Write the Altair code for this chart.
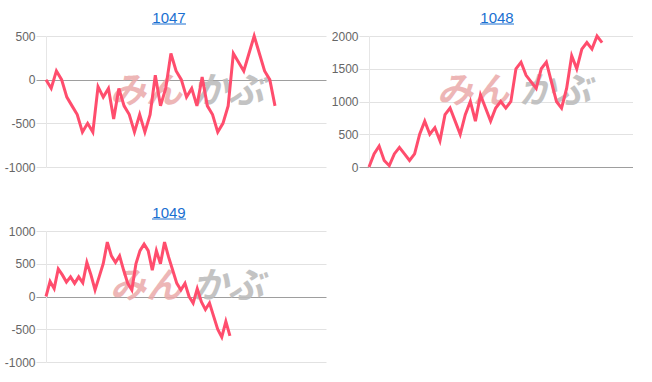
import altair as alt
import pandas as pd

names = ["1047", "1048", "1049"]

v1047 = [0, -100, 100, 0, -200, -300, -400, -600, -500, -600,
         -80, -200, -100, -450, -100, -300, -400, -600, -400, -600,
         -400, 50, -300, -100, 300, 100, 0, -200, -100, -300,
         30, -300, -400, -600, -500, -300, 300, 200, 100, 300,
         500, 300, 100, 0, -300]

v1048 = [0, 200, 320, 100, 20, 200, 300, 200, 100, 200,
         500, 700, 500, 600, 400, 800, 900, 700, 500, 800,
         1000, 700, 1100, 900, 700, 900, 1000, 900, 1000, 1500,
         1600, 1400, 1300, 1200, 1500, 1600, 1300, 1000, 900, 1200,
         1700, 1500, 1800, 1900, 1800, 2000, 1900]

v1049 = [0, 230, 120, 420, 330, 220, 300, 200, 300, 210,
         520, 330, 100, 300, 500, 830, 620, 520, 620, 400,
         200, 100, 500, 700, 800, 700, 400, 700, 500, 830,
         600, 400, 200, 100, 200, 0, -100, 120, -80, -200,
         -100, -300, -500, -620, -380, -600]

series = [v1047, v1048, v1049]
y_domains = [[-1000, 500], [0, 2000], [-1000, 1000]]
x_domain_max = [53.8, 52.1, 68.5]
watermark_left = ["みん"]
watermark_right = ["かぶ"]

LINE = "#ff4d6d"
LINK = "#1a6fd1"
GRID = "#e2e2e2"
BASE = "#9e9e9e"


def panel(name, values, ydom, xmax, w, h, title_x, wm_x):
    df = pd.DataFrame({"i": list(range(len(values))), "v": values})
    ticks = list(range(ydom[0], ydom[1] + 1, 500))
    cond = {"condition": {"test": "datum.value === 0", "value": BASE}, "value": GRID}
    line = alt.Chart(df).mark_line(color=LINE, strokeWidth=3).encode(
        x=alt.X("i:Q", scale=alt.Scale(domain=[0, xmax], nice=False, zero=True), axis=None),
        y=alt.Y("v:Q", scale=alt.Scale(domain=ydom, nice=False),
                axis=alt.Axis(values=ticks, title=None, labelExpr="'' + datum.value",
                              labelColor="#666666",
                              labelFontSize=12, labelFont="Liberation Sans",
                              labelPadding=1, tickSize=10, tickColor=cond,
                              gridColor=cond, domainColor="#e6e6e6")),
    )
    one = pd.DataFrame({"t": [name]})
    wm1 = alt.Chart(pd.DataFrame({"t": watermark_left})).mark_text(
        align="right", baseline="middle", font="Noto Sans CJK JP", fontSize=36,
        fontWeight="bold", fontStyle="italic", color="#ebaaaa", opacity=0.85,
    ).encode(text="t:N", x=alt.value(wm_x - 4), y=alt.value(56))
    wm2 = alt.Chart(pd.DataFrame({"t": watermark_right})).mark_text(
        align="left", baseline="middle", font="Noto Sans CJK JP", fontSize=36,
        fontWeight="bold", fontStyle="italic", color="#bdbdbd", opacity=0.9,
    ).encode(text="t:N", x=alt.value(wm_x + 6), y=alt.value(56))
    title = alt.Chart(one).mark_text(
        align="center", baseline="middle", font="Liberation Sans", fontSize=15,
        color=LINK,
    ).encode(text="t:N", x=alt.value(title_x), y=alt.value(-18.5))
    under = alt.Chart(one).mark_rule(color=LINK, strokeWidth=1).encode(
        x=alt.value(title_x - 17), x2=alt.value(title_x + 17), y=alt.value(-12))
    return alt.layer(wm1, wm2, line, title, under).properties(width=w, height=h)


p1 = panel(names[0], series[0], y_domains[0], x_domain_max[0], 280, 131, 123, 140)
p2 = panel(names[1], series[1], y_domains[1], x_domain_max[1], 264, 131, 128, 144)
p3 = panel(names[2], series[2], y_domains[2], x_domain_max[2], 280, 131, 123, 140)

chart = alt.concat(p1, p2, p3, columns=2, bounds="flush",
                   spacing={"row": 64, "column": 43}).properties(
    padding={"left": 4, "top": 10, "right": 0, "bottom": 0},
    background="white",
).configure_view(stroke=None)

chart.save("out.html", embed_options={"renderer": "svg", "actions": False})
